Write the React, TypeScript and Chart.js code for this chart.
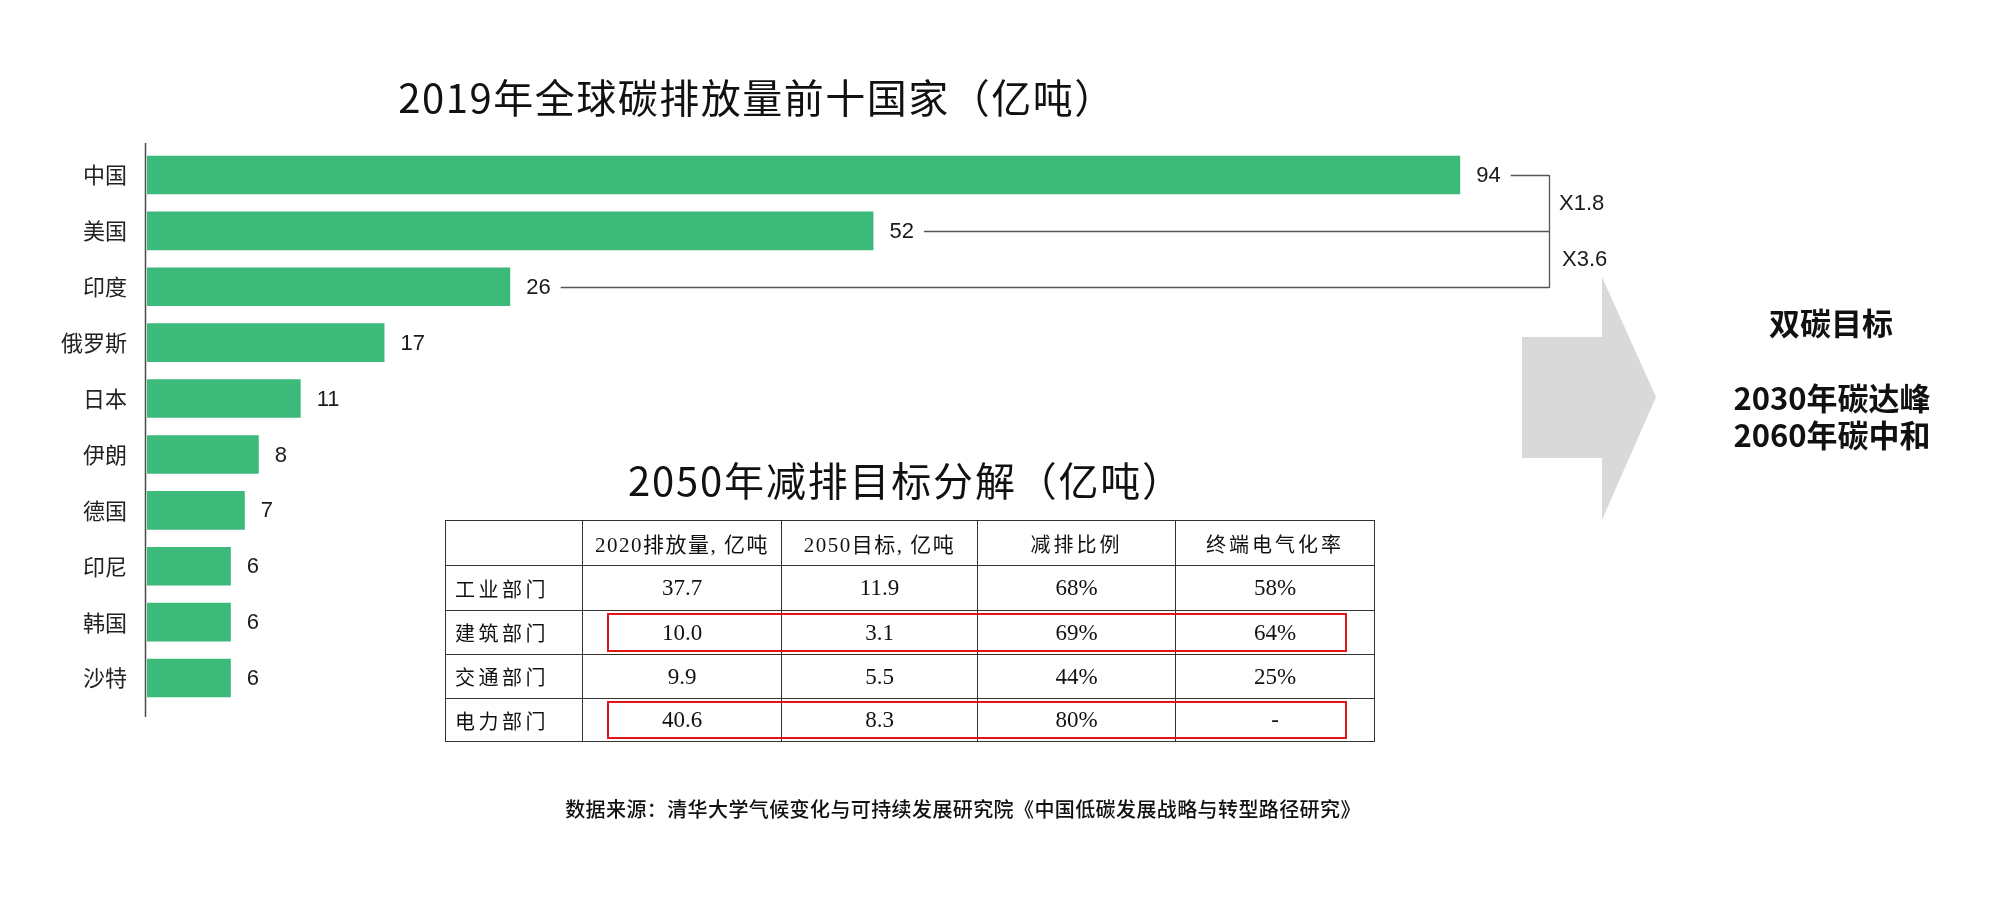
import React, { useEffect, useRef } from "react";
import { Chart, registerables } from "chart.js";

Chart.register(...registerables);

const categories = ["中国", "美国", "印度", "俄罗斯", "日本", "伊朗", "德国", "印尼", "韩国", "沙特"];
const emissions = [94, 52, 26, 17, 11, 8, 7, 6, 6, 6];

const chartTitle = "2019年全球碳排放量前十国家（亿吨）";
const tableTitle = "2050年减排目标分解（亿吨）";
const tableHeader = ["", "2020排放量, 亿吨", "2050目标, 亿吨", "减排比例", "终端电气化率"];
const sectors = ["工业部门", "建筑部门", "交通部门", "电力部门"];
const emission2020 = ["37.7", "10.0", "9.9", "40.6"];
const target2050 = ["11.9", "3.1", "5.5", "8.3"];
const reductionRate = ["68%", "69%", "44%", "80%"];
const electrification = ["58%", "64%", "25%", "-"];
const highlightedRows = [1, 3];
const goalTitle = "双碳目标";
const goalLines = ["2030年碳达峰", "2060年碳中和"];
const sourceText = "数据来源：清华大学气候变化与可持续发展研究院《中国低碳发展战略与转型路径研究》";

const BAR_COLOR = "#3bba7a";
const CJK = '"Noto Sans CJK SC", "Noto Sans", sans-serif';
const SERIF = '"Liberation Serif", "DejaVu Serif", "Noto Sans CJK SC", serif';

const overlayPlugin = {
  id: "overlay",
  afterDatasetsDraw(chart: any) {
    const ctx = chart.ctx;
    const meta = chart.getDatasetMeta(0);
    const ca = chart.chartArea;
    ctx.save();
    // axis line
    ctx.strokeStyle = "#4a4a4a";
    ctx.lineWidth = 1.5;
    ctx.beginPath();
    ctx.moveTo(ca.left - 1.5, ca.top - 4);
    ctx.lineTo(ca.left - 1.5, ca.bottom + 11);
    ctx.stroke();

    // value labels
    ctx.font = '22px "Liberation Sans", "Noto Sans", sans-serif';
    ctx.fillStyle = "#1a1a1a";
    ctx.textBaseline = "middle";
    ctx.textAlign = "left";
    const ends: number[] = [];
    meta.data.forEach((el: any, i: number) => {
      const t = String(emissions[i]);
      const x = el.x + 16;
      ctx.fillText(t, x, el.y + 1);
      ends.push(x + ctx.measureText(t).width);
    });

    // comparison brackets
    const bx = 1549;
    ctx.strokeStyle = "#555";
    ctx.lineWidth = 1.3;
    const ys = [0, 1, 2].map((i) => meta.data[i].y);
    ctx.beginPath();
    for (let i = 0; i < 3; i++) {
      ctx.moveTo(ends[i] + 10, Math.round(ys[i]) + 0.5);
      ctx.lineTo(bx, Math.round(ys[i]) + 0.5);
    }
    ctx.moveTo(bx + 0.5, Math.round(ys[0]));
    ctx.lineTo(bx + 0.5, Math.round(ys[2]) + 1);
    ctx.stroke();
    const r1 = "X" + (emissions[0] / emissions[1]).toFixed(1);
    const r2 = "X" + (emissions[0] / emissions[2]).toFixed(1);
    ctx.fillText(r1, bx + 10, (ys[0] + ys[1]) / 2 + 1);
    ctx.fillText(r2, bx + 13, (ys[1] + ys[2]) / 2 + 1);
    ctx.restore();
  },
};

function BarChart() {
  const ref = useRef<HTMLCanvasElement>(null);
  useEffect(() => {
    if (!ref.current) return;
    const chart = new Chart(ref.current, {
      type: "bar",
      data: {
        labels: categories,
        datasets: [
          {
            data: emissions,
            backgroundColor: BAR_COLOR,
            borderWidth: 0,
            categoryPercentage: 1,
            barPercentage: 0.69,
          },
        ],
      },
      options: {
        indexAxis: "y",
        animation: false,
        responsive: false,
        devicePixelRatio: 1,
        layout: { padding: { left: 0, top: 147, bottom: 203, right: 456 } },
        plugins: { legend: { display: false }, tooltip: { enabled: false }, title: { display: false } },
        scales: {
          x: { display: false, min: 0, max: 100 },
          y: {
            grid: { display: false, drawTicks: false },
            border: { display: false },
            ticks: {
              color: "#222",
              padding: 20,
              font: { size: 22, family: CJK },
            },
            afterFit: (s: any) => {
              s.width = 147;
            },
          },
        },
      },
      plugins: [overlayPlugin],
    } as any);
    return () => chart.destroy();
  }, []);
  return <canvas ref={ref} width={2000} height={909} style={{ position: "absolute", left: 0, top: 0 }} />;
}

const centered = (x: number, y: number, extra: React.CSSProperties = {}): React.CSSProperties => ({
  position: "absolute",
  left: x,
  top: y,
  transform: "translate(-50%, -50%)",
  whiteSpace: "nowrap",
  lineHeight: 1,
  fontFamily: CJK,
  color: "#111",
  ...extra,
});

const colWidths = [137, 199, 196, 198, 199];
const rowHeights = [45, 45, 44, 44, 43];

function DataTable() {
  const border = "1.5px solid #333";
  const rows = sectors.map((s, i) => [s, emission2020[i], target2050[i], reductionRate[i], electrification[i]]);
  return (
    <>
      <table
        style={{
          position: "absolute",
          left: 445,
          top: 520,
          width: 929,
          borderCollapse: "collapse",
          tableLayout: "fixed",
          fontFamily: SERIF,
          color: "#111",
        }}
      >
        <colgroup>
          {colWidths.map((w, i) => (
            <col key={i} style={{ width: w }} />
          ))}
        </colgroup>
        <tbody>
          <tr style={{ height: rowHeights[0] }}>
            {tableHeader.map((h, i) => (
              <td
                key={i}
                style={{
                  border,
                  textAlign: "center",
                  fontSize: /^\d/.test(h) ? 21 : 20,
                  letterSpacing: /^\d/.test(h) ? 1.5 : 3,
                  padding: 0,
                }}
              >
                {h}
              </td>
            ))}
          </tr>
          {rows.map((r, ri) => (
            <tr key={ri} style={{ height: rowHeights[ri + 1] }}>
              {r.map((c, ci) => (
                <td
                  key={ci}
                  style={{
                    border,
                    padding: ci === 0 ? "0 0 0 9px" : 0,
                    textAlign: ci === 0 ? "left" : "center",
                    fontSize: ci === 0 ? 20 : 23,
                    letterSpacing: ci === 0 ? 3.5 : 0,
                  }}
                >
                  {c}
                </td>
              ))}
            </tr>
          ))}
        </tbody>
      </table>
      {highlightedRows.map((ri) => {
        let top = 520;
        for (let k = 0; k <= ri; k++) top += rowHeights[k];
        return (
          <div
            key={ri}
            style={{
              position: "absolute",
              left: 607,
              top: top + 3,
              width: 740,
              height: rowHeights[ri + 1] - 5,
              border: "2.5px solid #e01515",
              boxSizing: "border-box",
            }}
          />
        );
      })}
    </>
  );
}

export default function App() {
  return (
    <div
      style={{
        position: "absolute",
        left: 0,
        top: 0,
        width: 2000,
        height: 909,
        overflow: "hidden",
        background: "#fff",
      }}
    >
      <BarChart />
      <div style={centered(757, 96, { fontSize: 40, letterSpacing: 1.5 })}>{chartTitle}</div>
      <div style={centered(906, 479, { fontSize: 40, letterSpacing: 1.8 })}>{tableTitle}</div>
      <DataTable />
      <svg width={2000} height={909} style={{ position: "absolute", left: 0, top: 0, pointerEvents: "none" }}>
        <polygon points="1522,337 1602,337 1602,277 1656,397 1602,520 1602,458 1522,458" fill="#d9d9d9" />
      </svg>
      <div style={centered(1831, 321, { fontSize: 31, fontWeight: 700 })}>{goalTitle}</div>
      {goalLines.map((t, i) => (
        <div key={i} style={centered(1832, 396 + i * 37, { fontSize: 31, fontWeight: 700 })}>
          {t}
        </div>
      ))}
      <div style={centered(963, 809, { fontSize: 20, fontWeight: 500, letterSpacing: 0.4 })}>{sourceText}</div>
    </div>
  );
}
